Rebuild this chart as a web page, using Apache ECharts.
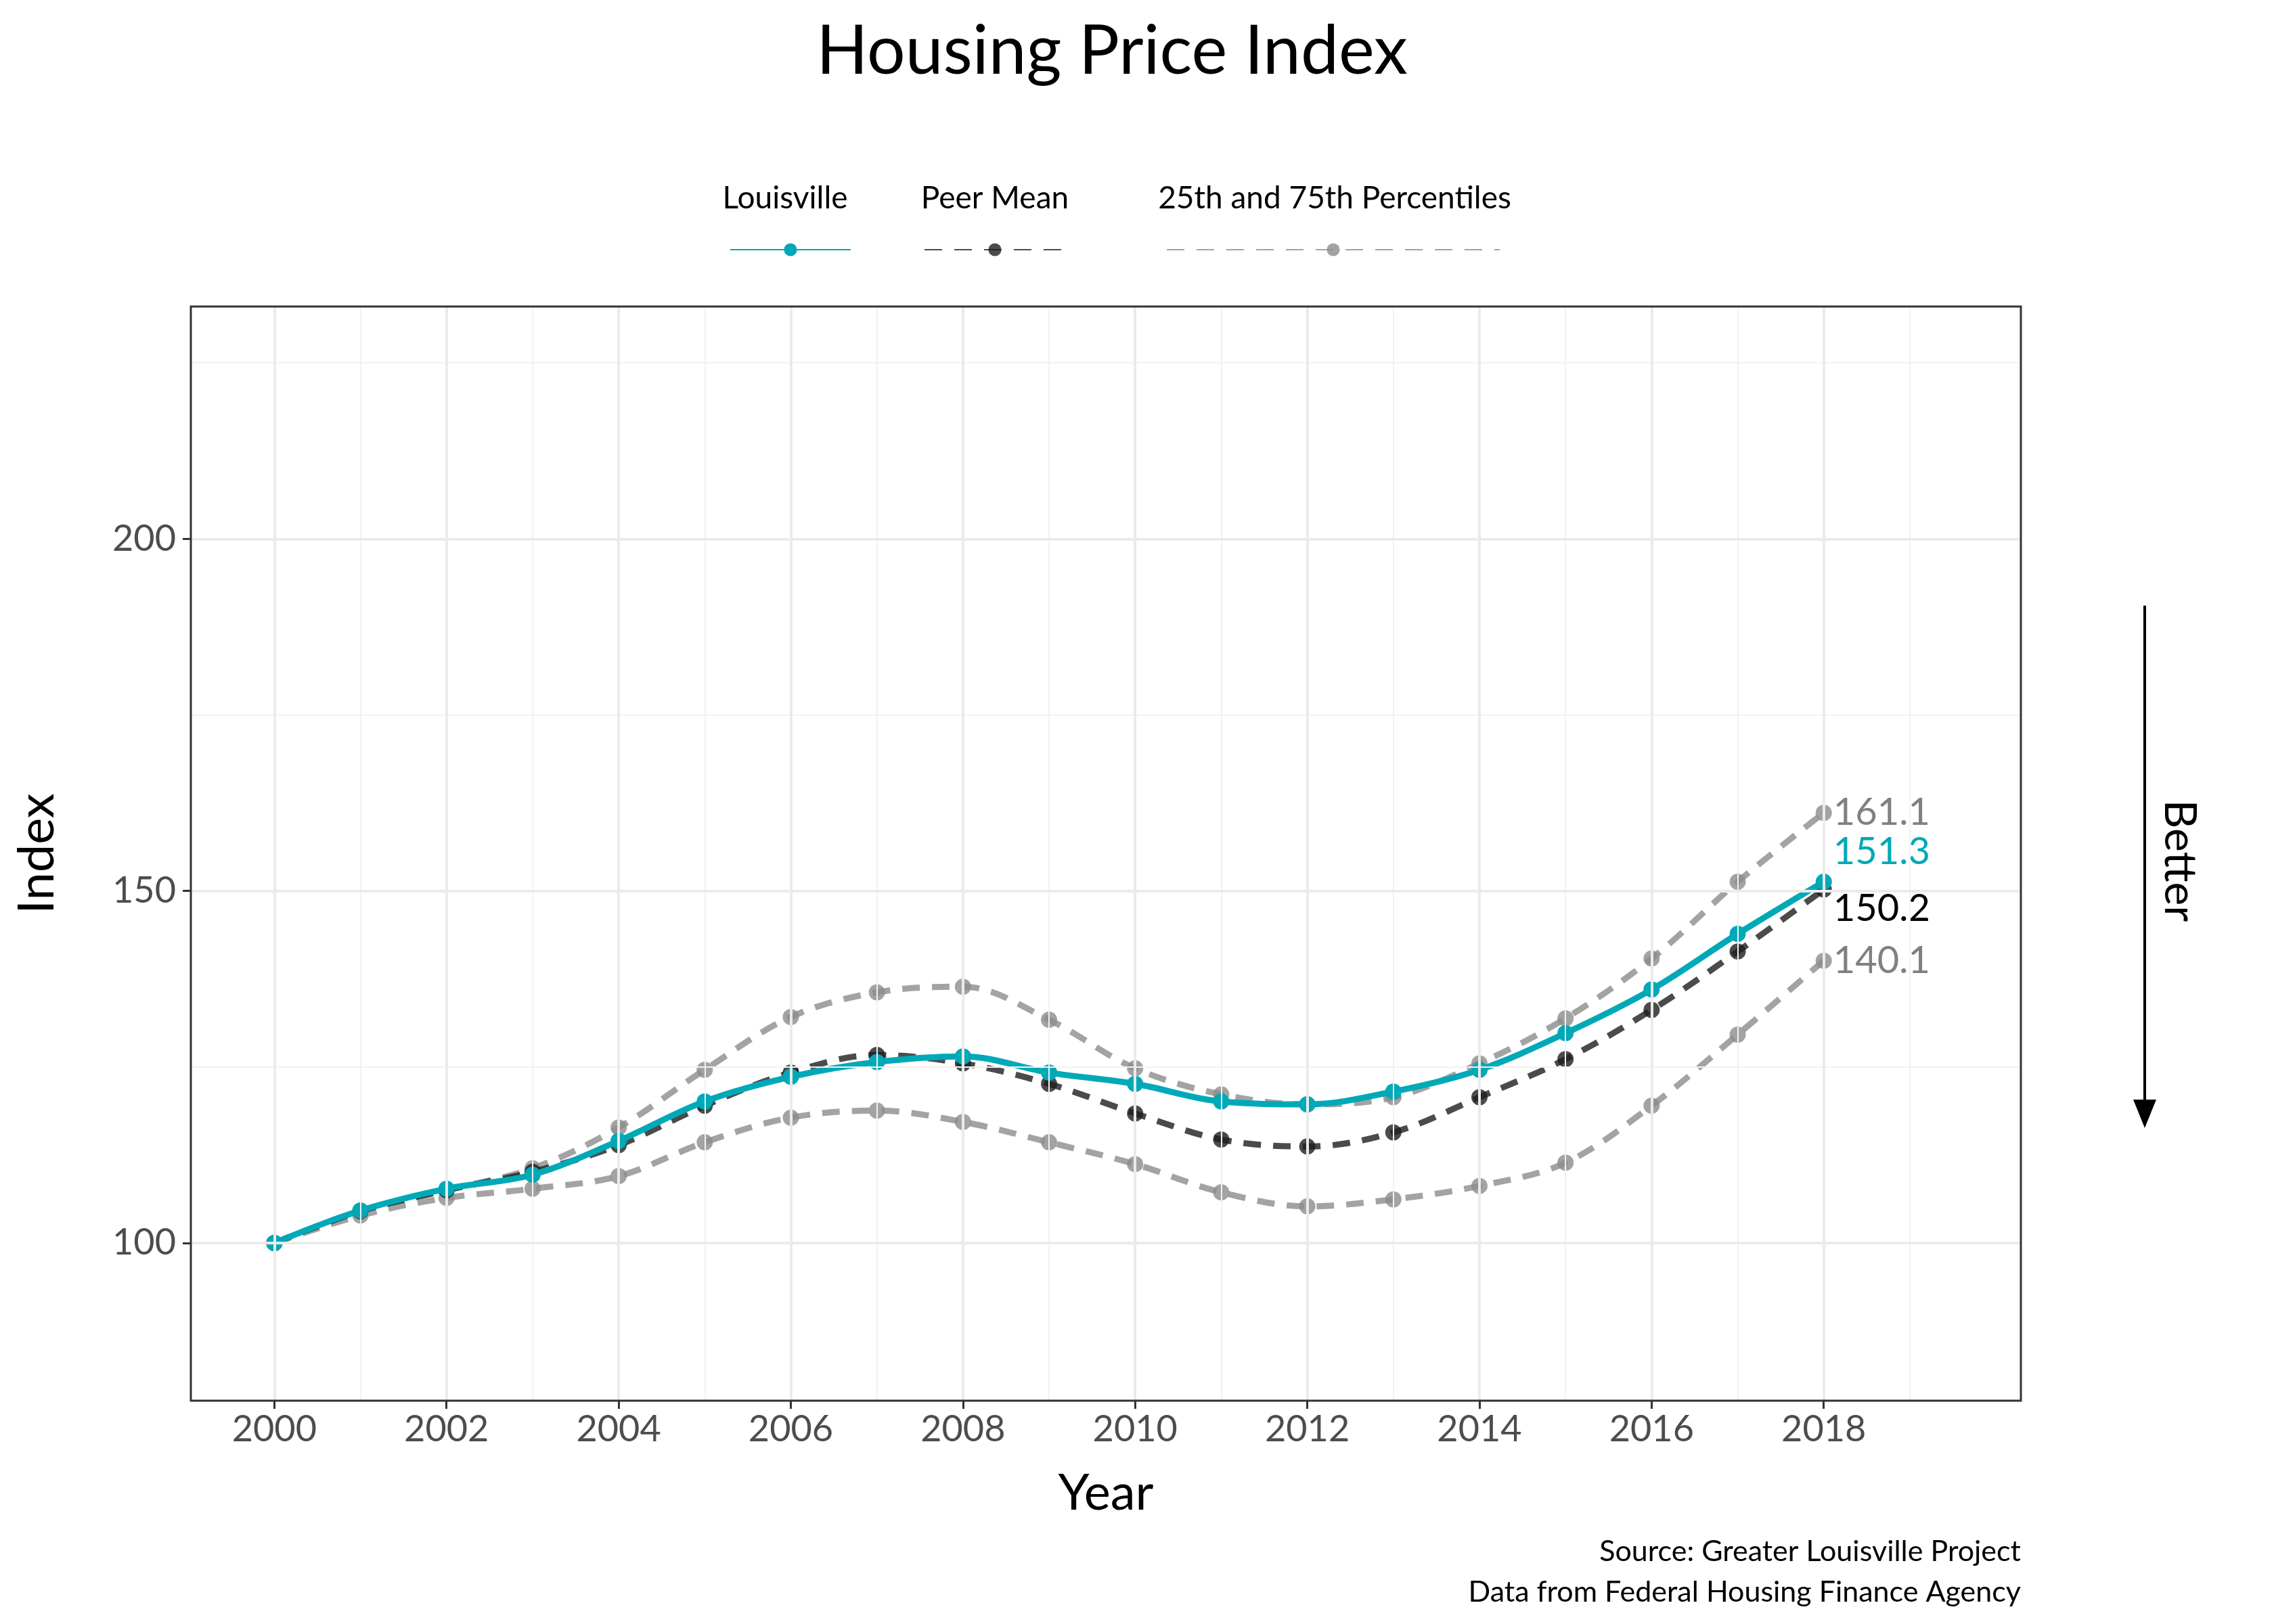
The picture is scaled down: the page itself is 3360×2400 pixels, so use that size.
<!DOCTYPE html>
<html>
<head>
<meta charset="utf-8">
<script src="https://cdn.jsdelivr.net/npm/echarts@6/dist/echarts.min.js"></script>
<style>html,body{margin:0;padding:0;background:#fff}#chart-container{width:3360px;height:2400px}</style>
</head>
<body>
<div id="chart-container"></div>
<script>
var dom = document.getElementById("chart-container");
var myChart = echarts.init(dom, null, { renderer: "canvas" });

var years = [2000, 2001, 2002, 2003, 2004, 2005, 2006, 2007, 2008, 2009, 2010, 2011, 2012, 2013, 2014, 2015, 2016, 2017, 2018];
var louisville = [100, 104.6, 107.7, 109.7, 114.5, 120.1, 123.6, 125.7, 126.5, 124.2, 122.6, 120.1, 119.7, 121.5, 124.6, 129.8, 136.0, 143.9, 151.3];
var peerMean = [100, 104.5, 107.5, 110.1, 113.9, 119.5, 124.2, 126.7, 125.5, 122.6, 118.4, 114.7, 113.7, 115.7, 120.7, 126.1, 133.1, 141.4, 150.2];
var pct75 = [100, 104.6, 107.5, 110.6, 116.4, 124.6, 132.1, 135.6, 136.4, 131.7, 124.8, 121.1, 119.7, 120.7, 125.5, 131.9, 140.4, 151.3, 161.1];
var pct25 = [100, 103.9, 106.4, 107.7, 109.5, 114.3, 117.8, 118.8, 117.2, 114.3, 111.2, 107.2, 105.2, 106.2, 108.1, 111.4, 119.5, 129.6, 140.1];
var xTicks = [2000, 2002, 2004, 2006, 2008, 2010, 2012, 2014, 2016, 2018];
var xMinor = [1999, 2001, 2003, 2005, 2007, 2009, 2011, 2013, 2015, 2017, 2019];
var yTicks = [100, 150, 200];
var yMinor = [125, 175, 225];

var font = "Lato";
var teal = "#00A9B7";
var peerCol = "rgba(30,30,30,0.8)";
var pctCol = "rgba(140,140,140,0.8)";

var gl = 282, gr = 374, gt = 453, gb = 330;

function pairs(vals) { return years.map(function (y, i) { return [y, vals[i]]; }); }

function gridLines() {
  var d = [];
  xMinor.forEach(function (v) { d.push({ xAxis: v, lineStyle: { color: "#f2f2f2", width: 2, type: "solid" } }); });
  yMinor.forEach(function (v) { d.push({ yAxis: v, lineStyle: { color: "#f2f2f2", width: 2, type: "solid" } }); });
  xTicks.forEach(function (v) { d.push({ xAxis: v, lineStyle: { color: "#ebebeb", width: 4, type: "solid" } }); });
  yTicks.forEach(function (v) { d.push({ yAxis: v, lineStyle: { color: "#ebebeb", width: 4, type: "solid" } }); });
  return d;
}

function lineSeries(name, vals, color, dash, z, labelColor, offset) {
  return {
    name: name, type: "line", data: pairs(vals), z: z,
    symbol: "circle", symbolSize: 24,
    itemStyle: { color: color, borderWidth: 0 },
    lineStyle: { color: color, width: 9, type: dash ? [26, 18] : "solid" },
    smooth: 0.35,
    endLabel: {
      show: true, color: labelColor, fontFamily: font, fontSize: 56, distance: 14, offset: offset || [0, 0],
      formatter: function (p) { return p.value[1].toFixed(1); }
    }
  };
}

var legendBase = {
  top: 352, itemHeight: 24,
  formatter: function () { return ""; }, textStyle: { fontSize: 1 }, itemGap: 0
};

var option = {
  backgroundColor: "#fff",
  title: {
    text: "Housing Price Index", left: 1638, textAlign: "center", top: 22,
    textStyle: { fontFamily: font, fontSize: 100, fontWeight: "normal", color: "#000" }
  },
  legend: [
    Object.assign({}, legendBase, { data: ["Louisville"], left: 1073, itemWidth: 178 }),
    Object.assign({}, legendBase, { data: ["Peer Mean"], left: 1360, itemWidth: 208 }),
    Object.assign({}, legendBase, { data: ["25th and 75th Percentiles"], left: 1718, itemWidth: 492 })
  ],
  grid: { left: gl, right: gr, top: gt, bottom: gb, containLabel: false },
  xAxis: {
    type: "value", min: 1999.03, max: 2020.29,
    name: "Year", nameLocation: "middle", nameGap: 100,
    nameTextStyle: { fontFamily: font, fontSize: 74, color: "#000" },
    axisLine: { show: false },
    axisTick: { show: true, customValues: xTicks, length: 12, lineStyle: { color: "#333", width: 3 } },
    axisLabel: { customValues: xTicks, fontFamily: font, fontSize: 54, color: "#4d4d4d", margin: 16,
      formatter: function (v) { return String(v); } },
    splitLine: { show: false }
  },
  yAxis: {
    type: "value", min: 77.6, max: 233,
    name: "Index", nameLocation: "middle", nameGap: 190, nameRotate: 90,
    nameTextStyle: { fontFamily: font, fontSize: 74, color: "#000" },
    axisLine: { show: false },
    axisTick: { show: true, customValues: yTicks, length: 12, lineStyle: { color: "#333", width: 3 } },
    axisLabel: { customValues: yTicks, fontFamily: font, fontSize: 54, color: "#4d4d4d", margin: 22 },
    splitLine: { show: false }
  },
  series: [
    {
      type: "line", data: [], silent: true, z: 0,
      markLine: { silent: true, symbol: "none", label: { show: false }, animation: false, data: gridLines() }
    },
    lineSeries("25th and 75th Percentiles", pct75, pctCol, true, 2, "#808080"),
    lineSeries("25th and 75th Percentiles", pct25, pctCol, true, 2, "#808080"),
    lineSeries("Peer Mean", peerMean, peerCol, true, 3, "#000", [0, 28]),
    lineSeries("Louisville", louisville, teal, false, 4, teal, [0, -44])
  ],
  graphic: [
    { type: "rect", z: 100, silent: true, shape: { x: gl, y: gt, width: 3360 - gl - gr, height: 2400 - gt - gb },
      style: { fill: null, stroke: "#333", lineWidth: 3 } },
    { type: "text", style: { x: 1160, y: 270, text: "Louisville", font: "46px Lato", fill: "#000", textAlign: "center" } },
    { type: "text", style: { x: 1470, y: 270, text: "Peer Mean", font: "46px Lato", fill: "#000", textAlign: "center" } },
    { type: "text", style: { x: 1972, y: 270, text: "25th and 75th Percentiles", font: "46px Lato", fill: "#000", textAlign: "center" } },
    { type: "line", shape: { x1: 3169, y1: 895, x2: 3169, y2: 1625 }, style: { stroke: "#000", lineWidth: 4 } },
    { type: "polygon", shape: { points: [[3152, 1625], [3186, 1625], [3169, 1667]] }, style: { fill: "#000" } },
    { type: "text", x: 3220, y: 1272, rotation: -Math.PI / 2,
      style: { text: "Better", font: "66px Lato", fill: "#000", textAlign: "center", textVerticalAlign: "middle" } },
    { type: "text", style: { x: 2986, y: 2272, text: "Source: Greater Louisville Project", font: "43px Lato", fill: "#000", textAlign: "right" } },
    { type: "text", style: { x: 2986, y: 2332, text: "Data from Federal Housing Finance Agency", font: "43px Lato", fill: "#000", textAlign: "right" } }
  ]
};

myChart.setOption(option);
window.addEventListener("resize", myChart.resize);
</script>
</body>
</html>
